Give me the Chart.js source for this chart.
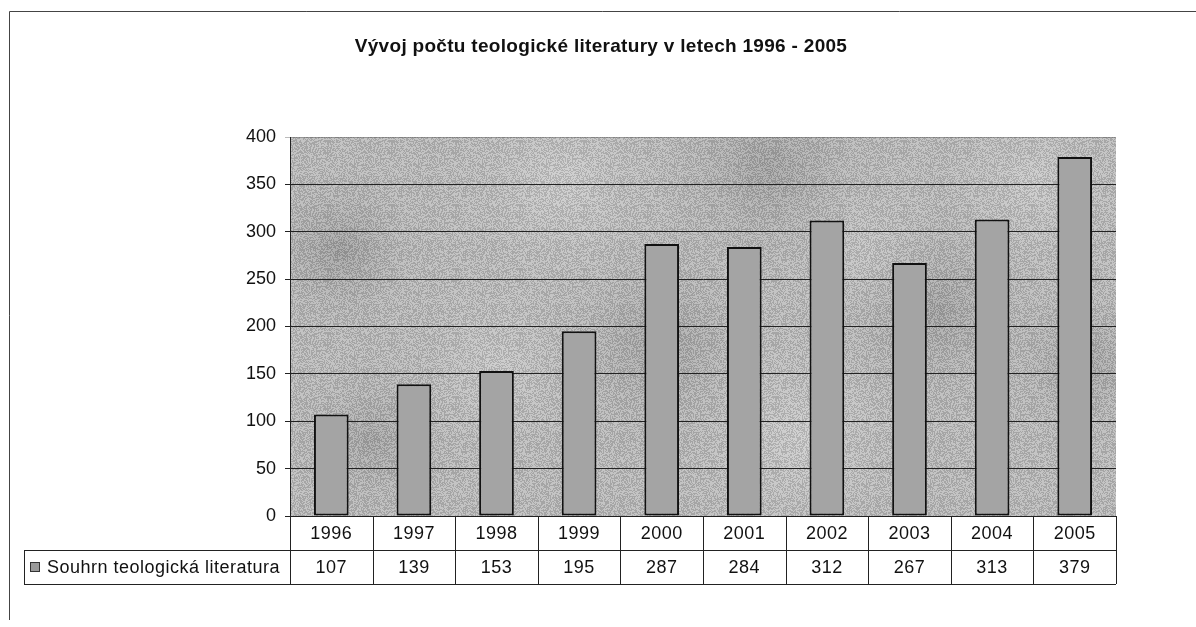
<!DOCTYPE html>
<html>
<head>
<meta charset="utf-8">
<script src="https://cdn.jsdelivr.net/npm/chart.js@4/dist/chart.umd.min.js"></script>
<style>
  html, body { margin: 0; padding: 0; background: #fff; }
  #wrap { width: 1196px; height: 627px; position: relative; }
</style>
</head>
<body>
<div id="wrap"><canvas id="c" width="1196" height="627"></canvas></div>
<script>
// ------------------------------ Data --------------------------------------
const years = ['1996', '1997', '1998', '1999', '2000', '2001', '2002', '2003', '2004', '2005'];
const counts = [107, 139, 153, 195, 287, 284, 312, 267, 313, 379];
const seriesName = 'Souhrn teologická literatura';
const titleText = 'Vývoj počtu teologické literatury v letech 1996 - 2005';

const FONT = '"Liberation Sans", Arial, sans-serif';
const ROW_H = 34; // data table row height

// deterministic grain for the scanned-texture look (style only)
function grain(x, y) {
  const s = Math.sin(x * 12.9898 + y * 78.233) * 43758.5453;
  return s - Math.floor(s);
}
function makeGrainPattern(ctx, alpha) {
  const c = document.createElement('canvas');
  c.width = 64; c.height = 64;
  const g = c.getContext('2d');
  const img = g.createImageData(64, 64);
  for (let y = 0; y < 64; y++) {
    for (let x = 0; x < 64; x++) {
      const v = grain(x, y) > 0.5 ? 255 : 0;
      const i = (y * 64 + x) * 4;
      img.data[i] = img.data[i + 1] = img.data[i + 2] = v;
      img.data[i + 3] = Math.round(alpha * 255);
    }
  }
  g.putImageData(img, 0, 0);
  return ctx.createPattern(c, 'repeat');
}

// Mottled grey plot background (Excel-like texture)
const plotBackground = {
  id: 'plotBackground',
  beforeDraw(chart) {
    const { ctx, chartArea: a } = chart;
    const w = a.right - a.left, h = a.bottom - a.top;
    ctx.save();
    ctx.beginPath();
    ctx.rect(a.left, a.top, w, h);
    ctx.clip();
    ctx.fillStyle = '#bcbcbc';
    ctx.fillRect(a.left, a.top, w, h);
    // soft blobs: [fx, fy, radius fraction, color]
    const blobs = [
      [0.06, 0.3, 0.12, 'rgba(115,115,115,0.4)'],
      [0.1, 0.8, 0.12, 'rgba(125,125,125,0.35)'],
      [0.33, 0.12, 0.16, 'rgba(220,220,220,0.5)'],
      [0.45, 0.55, 0.16, 'rgba(120,120,120,0.35)'],
      [0.58, 0.08, 0.16, 'rgba(115,115,115,0.35)'],
      [0.62, 0.8, 0.16, 'rgba(220,220,220,0.5)'],
      [0.78, 0.45, 0.16, 'rgba(115,115,115,0.35)'],
      [0.9, 0.12, 0.14, 'rgba(215,215,215,0.5)'],
      [0.96, 0.6, 0.12, 'rgba(120,120,120,0.35)'],
      [0.25, 0.6, 0.13, 'rgba(215,215,215,0.45)'],
      [0.7, 0.3, 0.12, 'rgba(215,215,215,0.4)']
    ];
    blobs.forEach(([fx, fy, fr, col]) => {
      const x = a.left + fx * w, y = a.top + fy * h, r = fr * w;
      const g = ctx.createRadialGradient(x, y, 0, x, y, r);
      g.addColorStop(0, col);
      g.addColorStop(1, 'rgba(188,188,188,0)');
      ctx.fillStyle = g;
      ctx.fillRect(a.left, a.top, w, h);
    });
    ctx.fillStyle = makeGrainPattern(ctx, 0.12);
    ctx.fillRect(a.left, a.top, w, h);
    ctx.restore();
  }
};

// Data table under the plot, title and outer frame
const dataTable = {
  id: 'dataTable',
  afterDraw(chart) {
    const { ctx, chartArea: a } = chart;
    const xs = chart.scales.x;
    const n = years.length;
    const step = (a.right - a.left) / n;
    const y0 = a.bottom, y1 = y0 + ROW_H, y2 = y1 + ROW_H;
    const legLeft = 24;

    ctx.save();
    // title
    ctx.fillStyle = '#111';
    ctx.font = 'bold 19px ' + FONT;
    ctx.letterSpacing = '0.3px';
    ctx.textAlign = 'center';
    ctx.textBaseline = 'middle';
    ctx.fillText(titleText, 601, 47);

    ctx.strokeStyle = '#222';
    ctx.lineWidth = 1;
    ctx.beginPath();
    ctx.moveTo(a.left, y0 + 0.5); ctx.lineTo(a.right, y0 + 0.5);
    ctx.moveTo(legLeft, y1 + 0.5); ctx.lineTo(a.right, y1 + 0.5);
    ctx.moveTo(legLeft, y2 + 0.5); ctx.lineTo(a.right, y2 + 0.5);
    ctx.moveTo(legLeft + 0.5, y1); ctx.lineTo(legLeft + 0.5, y2);
    for (let i = 0; i <= n; i++) {
      const x = Math.round(a.left + i * step) + 0.5;
      ctx.moveTo(x, y0); ctx.lineTo(x, y2);
    }
    ctx.stroke();

    // table texts
    ctx.font = '18px ' + FONT;
    ctx.letterSpacing = '0.5px';
    years.forEach((yr, i) => {
      const x = xs.getPixelForValue(i);
      ctx.fillText(yr, x, y0 + ROW_H / 2 + 1);
      ctx.fillText(String(counts[i]), x, y1 + ROW_H / 2 + 1);
    });

    // legend key
    ctx.fillStyle = '#9a9a9a';
    ctx.fillRect(31, y1 + 13, 8, 8);
    ctx.strokeStyle = '#333';
    ctx.strokeRect(30.5, y1 + 12.5, 9, 9);
    ctx.fillStyle = '#111';
    ctx.textAlign = 'left';
    ctx.fillText(seriesName, 47, y1 + ROW_H / 2 + 1);

    // outer chart frame (top + left edge)
    ctx.strokeStyle = '#444';
    ctx.beginPath();
    ctx.moveTo(9.5, 620); ctx.lineTo(9.5, 11.5); ctx.lineTo(1196, 11.5);
    ctx.stroke();
    ctx.restore();
  }
};

new Chart(document.getElementById('c').getContext('2d'), {
  type: 'bar',
  data: {
    labels: years,
    datasets: [{
      label: seriesName,
      data: counts,
      backgroundColor: '#a4a4a4',
      borderColor: '#111',
      borderWidth: 2,
      borderSkipped: false,
      barPercentage: 0.42,
      categoryPercentage: 1
    }]
  },
  options: {
    responsive: false,
    animation: false,
    devicePixelRatio: 1,
    layout: { padding: { left: 0, right: 80, top: 137, bottom: 43 } },
    scales: {
      x: {
        offset: true,
        grid: { display: false },
        border: { display: false },
        ticks: { display: false },
        afterFit: (s) => { s.height = ROW_H * 2; }
      },
      y: {
        min: 0,
        max: 400,
        ticks: {
          stepSize: 50,
          color: '#111',
          padding: 9,
          font: { family: FONT, size: 18 }
        },
        grid: {
          color: (c) => (c.tick && c.tick.value === 400 ? 'rgba(60,60,60,0.35)' : '#222'),
          lineWidth: 1,
          tickLength: 5
        },
        border: { display: true, color: '#222', width: 1 },
        afterFit: (s) => { s.width = 290; }
      }
    },
    plugins: {
      legend: { display: false },
      tooltip: { enabled: false },
      title: { display: false }
    }
  },
  plugins: [plotBackground, dataTable]
});
</script>
</body>
</html>
